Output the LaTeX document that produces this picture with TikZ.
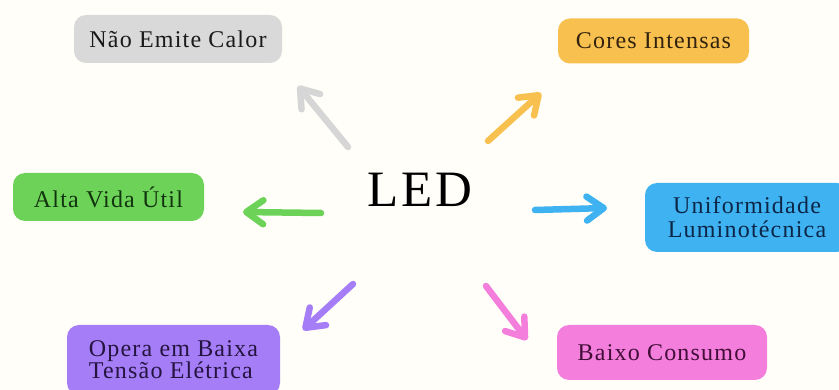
\documentclass[tikz,border=0pt]{standalone}
\usepackage{fontspec}
\setmainfont{Liberation Serif}[LetterSpace=5]
\usetikzlibrary{arrows.meta}

\definecolor{bgcream}{HTML}{FFFEF8}
\definecolor{grayfill}{HTML}{D9D9D9}
\definecolor{graytext}{HTML}{1A1A1A}
\definecolor{grayarrow}{HTML}{D6D6D6}
\definecolor{yellowfill}{HTML}{F8C14F}
\definecolor{yellowtext}{HTML}{33230E}
\definecolor{greenfill}{HTML}{6DD258}
\definecolor{greentext}{HTML}{12340E}
\definecolor{bluefill}{HTML}{3FB2F2}
\definecolor{bluetext}{HTML}{0B2647}
\definecolor{purplefill}{HTML}{A47DF7}
\definecolor{purpletext}{HTML}{24143F}
\definecolor{pinkfill}{HTML}{F47EDC}
\definecolor{pinktext}{HTML}{420E38}

\tikzset{
  tag/.style={rounded corners=12pt, inner sep=0pt, anchor=center,
    font=\fontsize{24}{25}\selectfont},
  sketcharrow/.style={line width=6.5pt, line cap=round, line join=round,
    -{Straight Barb[length=17pt, width=24pt, round]}},
}

\begin{document}
\begin{tikzpicture}[x=1pt, y=-1pt]
  \fill[bgcream] (0,0) rectangle (839,390);
  \useasboundingbox (0,0) rectangle (839,390);

  % central label
  \node[font=\fontsize{51}{52}\selectfont, inner sep=0pt] (led) at (420,190) {LED};

  % feature boxes
  \node[tag, fill=grayfill, text=graytext, minimum width=208pt, minimum height=48pt]
    (calor) at (178,39) {Não Emite Calor};
  \node[tag, fill=yellowfill, text=yellowtext, minimum width=191pt, minimum height=45pt]
    (cores) at (653.5,41) {Cores Intensas};
  \node[tag, fill=greenfill, text=greentext, minimum width=191pt, minimum height=48pt]
    (vida) at (108.5,197) {Alta Vida Útil};
  \node[tag, fill=bluefill, text=bluetext, minimum width=204pt, minimum height=69pt,
    align=center, font=\fontsize{24}{24}\selectfont]
    (unif) at (747,217.5) {Uniformidade\\Luminotécnica};
  \node[tag, fill=purplefill, text=purpletext, minimum width=213pt, minimum height=70pt,
    align=left, font=\fontsize{24}{22}\selectfont]
    (tensao) at (173.5,360) {Opera em Baixa\\Tensão Elétrica};
  \node[tag, fill=pinkfill, text=pinktext, minimum width=210pt, minimum height=55pt]
    (consumo) at (662,352.5) {Baixo Consumo};

  % arrow ends
  \coordinate (calorA) at (348,147);  \coordinate (calorB) at (298,86);
  \coordinate (coresA) at (488,141);  \coordinate (coresB) at (541,93);
  \coordinate (vidaA) at (321,213);   \coordinate (vidaB) at (243,212);
  \coordinate (unifA) at (535,210);   \coordinate (unifB) at (607,208);
  \coordinate (tensaoA) at (353,284); \coordinate (tensaoB) at (303,330);
  \coordinate (consumoA) at (486,286);\coordinate (consumoB) at (527,340);

  \draw[sketcharrow, grayarrow] (calorA) -- (calorB);
  \draw[sketcharrow, yellowfill] (coresA) -- (coresB);
  \draw[sketcharrow, greenfill] (vidaA) -- (vidaB);
  \draw[sketcharrow, bluefill] (unifA) -- (unifB);
  \draw[sketcharrow, purplefill] (tensaoA) -- (tensaoB);
  \draw[sketcharrow, pinkfill] (consumoA) -- (consumoB);
\end{tikzpicture}
\end{document}
